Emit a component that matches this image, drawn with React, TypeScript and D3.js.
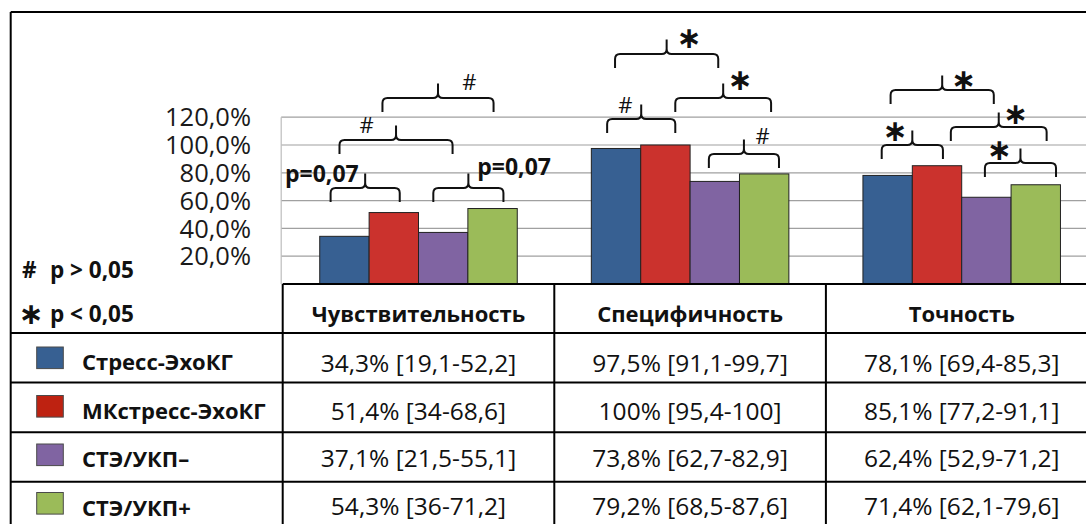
import React from "react";
import * as d3 from "d3";

// Diagnostic metrics of four stress-imaging methods (percent, with 95% CI)
const categories = ["Чувствительность", "Специфичность", "Точность"];
const seriesNames = ["Стресс-ЭхоКГ", "МКстресс-ЭхоКГ", "СТЭ/УКП–", "СТЭ/УКП+"];

const stressEcho = [34.3, 97.5, 78.1];
const mcStressEcho = [51.4, 100, 85.1];
const steMinus = [37.1, 73.8, 62.4];
const stePlus = [54.3, 79.2, 71.4];

const stressEchoCI = ["19,1-52,2", "91,1-99,7", "69,4-85,3"];
const mcStressEchoCI = ["34-68,6", "95,4-100", "77,2-91,1"];
const steMinusCI = ["21,5-55,1", "62,7-82,9", "52,9-71,2"];
const stePlusCI = ["36-71,2", "68,5-87,6", "62,1-79,6"];

const yTicks = [0, 20, 40, 60, 80, 100, 120];

// Pairwise comparison braces: positions in bar slots (0..4 within a group) and percent units
const brackets = [
  { cat: 0, from: 0.22, to: 1.62, level: 59.0, mark: "p=0,07", at: [0.79, 73.4], anchor: "end" },
  { cat: 0, from: 2.3, to: 3.72, level: 59.0, mark: "p=0,07", at: [3.19, 78.4], anchor: "start" },
  { cat: 0, from: 0.4, to: 2.69, level: 93.5, mark: "#", at: [0.95, 114.0] },
  { cat: 0, from: 1.27, to: 3.52, level: 123.7, mark: "#", at: [3.03, 145.0] },
  { cat: 1, from: 0.32, to: 1.7, level: 108.6, mark: "#", at: [0.69, 128.4] },
  { cat: 1, from: 2.38, to: 3.8, level: 83.5, mark: "#", at: [3.47, 106.1] },
  { cat: 1, from: 1.7, to: 3.64, level: 123.7, mark: "∗", at: [3.01, 145.7] },
  { cat: 1, from: 0.48, to: 2.57, level: 155.4, mark: "∗", at: [1.98, 176.6] },
  { cat: 2, from: 0.38, to: 1.62, level: 89.9, mark: "∗", at: [0.65, 109.0] },
  { cat: 2, from: 2.47, to: 3.91, level: 77.0, mark: "∗", at: [2.76, 96.0] },
  { cat: 2, from: 1.78, to: 3.72, level: 102.9, mark: "∗", at: [3.09, 121.6] },
  { cat: 2, from: 0.56, to: 2.65, level: 129.5, mark: "∗", at: [2.04, 146.4] },
];

const series = [stressEcho, mcStressEcho, steMinus, stePlus];
const seriesCI = [stressEchoCI, mcStressEchoCI, steMinusCI, stePlusCI];
const barColors = ["#376092", "#CB322D", "#8064A2", "#9BBB59"];
const swatchColors = ["#376092", "#BE2211", "#8064A2", "#9BBB59"];

const W = 1086;
const H = 524;
const FONT = "'Open Sans', 'Noto Sans', sans-serif";
const SYM_FONT = "'DejaVu Sans', sans-serif";

const fmtPct = (v: number) =>
  Number.isInteger(v) ? `${v}` : d3.format(".1f")(v).replace(".", ",");
const fmtTick = (v: number) => d3.format(".1f")(v).replace(".", ",") + "%";

function bracePath(x0: number, x1: number, yb: number) {
  const r = 5;
  const hook = 14;
  const cusp = 14.5;
  const yh = yb - hook;
  const yt = yh - cusp;
  const xc = (x0 + x1) / 2;
  return (
    `M${x0},${yb} L${x0},${yh + r} Q${x0},${yh} ${x0 + r},${yh} L${xc - r},${yh} ` +
    `Q${xc},${yh} ${xc},${yh - r} L${xc},${yt} ` +
    `M${xc},${yh - r} Q${xc},${yh} ${xc + r},${yh} L${x1 - r},${yh} ` +
    `Q${x1},${yh} ${x1},${yh + r} L${x1},${yb}`
  );
}

export default function App() {
  const frameLeft = 10.7;
  const frameTop = 12;
  const legendColRight = 282.7;
  const tableTop = 284;
  const headerH = 49;
  const rowH = 49.6;

  const x = d3
    .scaleBand<string>()
    .domain(categories)
    .range([legendColRight, legendColRight + 3 * 271.6])
    .paddingInner(0)
    .paddingOuter(0);
  const xi = d3
    .scaleBand<number>()
    .domain([0, 1, 2, 3])
    .range([0, x.bandwidth()])
    .paddingInner(0)
    .paddingOuter(0.75);
  const y = d3.scaleLinear().domain([0, 120]).range([tableTop, 117.2]);

  const slotX = (cat: number, slot: number) =>
    (x(categories[cat]) as number) + (xi(0) as number) + slot * xi.step();

  const rowTops = seriesNames.map((_, i) => tableTop + headerH + i * rowH);
  const hLines = [tableTop + headerH, ...rowTops.map((t) => t + rowH)];
  // text lines in the rows sit on a slightly tighter pitch than the grid
  const valueBaseline = (i: number) => tableTop + headerH + 39 + i * 47.5;
  const nameBaseline = (i: number) => tableTop + headerH + 37 + i * 48.5;
  const swatchTop = (i: number) => tableTop + headerH + 14 + i * 48.5;

  return (
    <svg
      width={W}
      height={H}
      style={{ position: "absolute", left: 0, top: 0, background: "#fff" }}
      fontFamily={FONT}
    >
      <defs>
        <clipPath id="yLabelClip">
          <rect x={0} y={0} width={legendColRight} height={275} />
        </clipPath>
      </defs>
      <rect x={0} y={0} width={W} height={H} fill="#fff" />

      {/* outer frame */}
      <line x1={frameLeft} x2={W} y1={frameTop} y2={frameTop} stroke="#000" strokeWidth={2} />
      <line x1={frameLeft} x2={frameLeft} y1={frameTop} y2={H} stroke="#000" strokeWidth={2} />

      {/* gridlines */}
      {yTicks.slice(1).map((t) => (
        <line
          key={t}
          x1={legendColRight - 1.5}
          x2={W}
          y1={y(t)}
          y2={y(t)}
          stroke="#a0a0a0"
          strokeWidth={1.2}
        />
      ))}
      <line
        x1={legendColRight - 1.5}
        x2={legendColRight - 1.5}
        y1={y(120)}
        y2={tableTop}
        stroke="#bdbdbd"
        strokeWidth={1.2}
      />

      {/* y-axis labels */}
      <g clipPath="url(#yLabelClip)">
        {yTicks.map((t) => (
          <text
            key={t}
            x={251}
            y={y(t)}
            dy="0.36em"
            textAnchor="end"
            fontSize={25.5}
            fill="#1a1a1a"
          >
            {fmtTick(t)}
          </text>
        ))}
      </g>

      {/* bars */}
      {categories.map((c, ci) => (
        <g key={c}>
          {series.map((s, si) => (
            <rect
              key={si}
              x={(x(c) as number) + (xi(si) as number)}
              y={y(s[ci])}
              width={xi.bandwidth()}
              height={tableTop - y(s[ci])}
              fill={barColors[si]}
              stroke="#222"
              strokeWidth={1}
            />
          ))}
        </g>
      ))}

      {/* comparison braces */}
      {brackets.map((b, i) => {
        const x0 = slotX(b.cat, b.from);
        const x1 = slotX(b.cat, b.to);
        const lx = slotX(b.cat, b.at[0]);
        const ly = y(b.at[1]);
        let label;
        if (b.mark === "#") {
          label = (
            <text x={lx} y={ly} dy="0.36em" textAnchor="middle" fontSize={22} fill="#111">
              #
            </text>
          );
        } else if (b.mark === "∗") {
          label = (
            <text
              x={lx}
              y={ly}
              dy="0.3em"
              textAnchor="middle"
              fontSize={30}
              fontWeight="bold"
              fontFamily={SYM_FONT}
              fill="#111"
            >
              ∗
            </text>
          );
        } else {
          label = (
            <text
              x={lx}
              y={ly}
              textAnchor={b.anchor as any}
              fontSize={23}
              fontWeight="bold"
              fill="#111"
            >
              {b.mark}
            </text>
          );
        }
        return (
          <g key={i}>
            <path d={bracePath(x0, x1, y(b.level))} fill="none" stroke="#111" strokeWidth={2} />
            {label}
          </g>
        );
      })}

      {/* significance key */}
      <text x={22} y={278} fontSize={22.5} fontWeight="bold" fill="#111">
        #
      </text>
      <text x={50} y={278} fontSize={22.5} fontWeight="bold" fill="#111">
        {"p > 0,05"}
      </text>
      <text
        x={31}
        y={315}
        dy="0.3em"
        textAnchor="middle"
        fontSize={30}
        fontWeight="bold"
        fontFamily={SYM_FONT}
        fill="#111"
      >
        ∗
      </text>
      <text x={50} y={322} fontSize={22.5} fontWeight="bold" fill="#111">
        {"p < 0,05"}
      </text>

      {/* table grid */}
      <line x1={legendColRight} x2={W} y1={tableTop} y2={tableTop} stroke="#000" strokeWidth={2} />
      {hLines.map((ly, i) => (
        <line key={i} x1={frameLeft} x2={W} y1={ly} y2={ly} stroke="#000" strokeWidth={2} />
      ))}
      {categories.map((c) => (
        <line
          key={c}
          x1={x(c) as number}
          x2={x(c) as number}
          y1={tableTop}
          y2={H}
          stroke="#000"
          strokeWidth={2}
        />
      ))}

      {/* column headers */}
      {categories.map((c) => (
        <text
          key={c}
          x={(x(c) as number) + x.bandwidth() / 2}
          y={tableTop + 38}
          textAnchor="middle"
          fontSize={22}
          fontWeight="bold"
          fill="#111"
        >
          {c}
        </text>
      ))}

      {/* rows: legend swatch, method name, values */}
      {seriesNames.map((name, si) => (
        <g key={name}>
          <rect
            x={36.7}
            y={swatchTop(si)}
            width={26.6}
            height={21.6}
            fill={swatchColors[si]}
            stroke="#4a4a4a"
            strokeWidth={1}
          />
          <text x={82} y={nameBaseline(si)} fontSize={22} fontWeight="bold" fill="#111">
            {name}
          </text>
          {categories.map((c, ci) => (
            <text
              key={c}
              x={(x(c) as number) + x.bandwidth() / 2}
              y={valueBaseline(si)}
              textAnchor="middle"
              fontSize={24.5}
              fill="#111"
            >
              {`${fmtPct(series[si][ci])}% [${seriesCI[si][ci]}]`}
            </text>
          ))}
        </g>
      ))}
    </svg>
  );
}
